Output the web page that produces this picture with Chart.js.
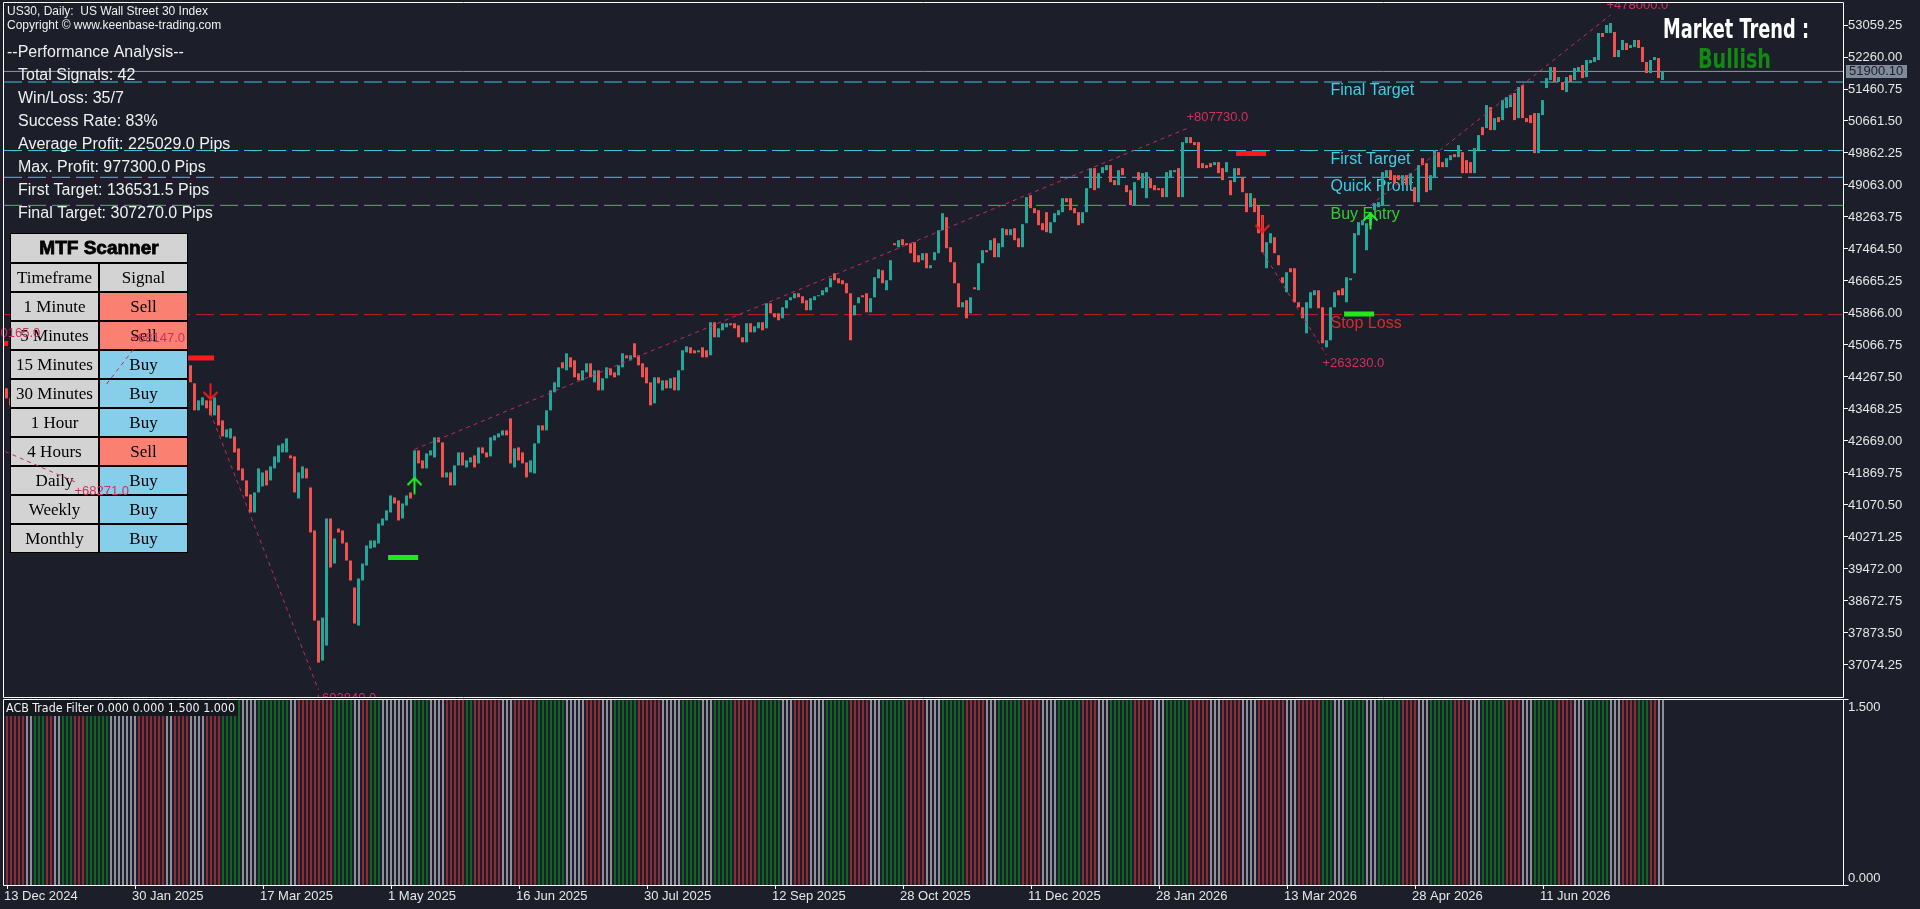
<!DOCTYPE html>
<html>
<head>
<meta charset="utf-8">
<title>US30 Daily - Keenbase</title>
<script src="https://cdn.jsdelivr.net/npm/chart.js@4.4.1/dist/chart.umd.min.js"></script>
<style>
  html, body { margin:0; padding:0; background:#1c1f2a; width:1920px; height:909px; overflow:hidden; }
  canvas { position:absolute; left:0; display:block; }
  #main { top:0; }
  #sub { top:698px; }
</style>
</head>
<body>
<canvas id="main" width="1920" height="698"></canvas>
<canvas id="sub" width="1920" height="211"></canvas>
<script>
// ---------------- DATA ----------------
const opens = [
43984,43734,43559,43684,43384,43184,43309,42984,42784,42934,
42634,42434,42534,42234,42059,42184,41934,41734,41884,41684,
42134,42434,42884,42684,43309,43684,44034,43884,44234,44434,
44309,44684,44884,45034,44784,44634,44809,44559,44384,44534,
44734,44584,44809,44934,44759,44884,44559,44109,43434,43559,
43684,43684,43309,43559,43184,42759,42734,42784,42484,41984,
41684,41334,40884,41384,41534,41934,41684,41984,42134,42384,
42384,42309,42284,41234,41734,41984,41509,40434,38184,37184,
37559,40734,39609,40484,40434,40134,39684,39009,38059,39184,
39559,39984,40009,40109,40559,40684,40884,41259,41184,40734,
41059,41384,41734,42434,42184,41984,42309,42259,42759,42634,
41759,41884,41559,42059,42384,42009,42134,42309,42109,42509,
42384,42284,42684,42759,42809,42934,43234,42009,42509,42384,
42134,41884,41859,42609,43059,42934,43434,43884,44009,44634,
44434,44759,44684,44359,44184,44384,44609,44134,44434,43934,
44234,44484,44384,44309,44509,44809,44684,45109,44809,44609,
44509,44134,43609,44259,43934,44184,43984,44259,43934,44434,
44884,45009,44934,44884,45009,44934,44809,45634,45259,45434,
45509,45609,45609,45559,45259,45134,45609,45384,45484,45634,
45484,46109,45859,45859,45734,45984,46184,46234,46359,46284,
46184,45934,46184,46284,46309,46384,46509,46859,46734,46684,
46609,46359,45809,46109,46309,46359,45884,46259,46734,46934,
46434,46684,47609,47509,47709,47609,47609,47634,47309,47184,
47359,46984,47184,47359,47934,48259,47509,47134,46609,46009,
46184,45859,46509,46434,47109,47434,47434,47734,47259,47509,
47959,47809,47984,47734,47509,48109,48809,48484,48434,48109,
48384,47859,48134,48309,48384,48734,48734,48484,48384,48109,
48384,48984,49484,48984,49359,49434,49559,49184,49059,49484,
49059,48934,48559,49384,48984,48734,49234,49059,48984,48984,
48759,49259,49384,49484,48759,50109,50259,50134,50134,49609,
49559,49609,49559,49634,49484,49384,49184,49134,49484,49259,
48859,48509,48734,48559,48309,46984,47609,47759,47309,46759,
46384,46984,46984,46134,46009,45359,45984,46309,46434,46009,
45009,45184,46009,46434,46484,46134,46684,46859,47809,48059,
47434,48059,48434,48509,48559,49259,49434,49309,49309,49059,
49309,49059,49009,48634,49734,49609,48934,49259,49884,49634,
49509,49684,49834,49759,49884,49684,49634,49359,49934,50509,
50484,51009,50434,50759,50684,50984,51009,51359,50734,51559,
50734,50809,50859,49859,50809,51484,51684,52009,51634,51634,
51384,51809,51684,51884,52059,51759,52109,52134,52184,52859,
52859,52859,52884,52259,52434,52609,52484,52509,52684,52509,
52134,51859,52184,52234,51684
];
const highs = [
44059,43809,43759,43759,43459,43384,43384,43059,43009,43009,
42709,42609,42609,42309,42259,42259,42009,41959,41959,42209,
42509,42959,42959,43384,43759,44109,44109,44309,44509,44509,
44759,44959,45109,45109,44859,44884,44884,44634,44609,44809,
44809,44884,45009,45009,44959,44959,44634,44184,43759,43834,
43734,43809,43859,43609,43234,43034,43059,42834,42534,42034,
41734,41434,41484,42059,41984,42034,42134,42384,42634,42684,
42809,42384,42359,41984,42134,42559,41584,40484,38234,38309,
40884,40884,40309,40809,40509,40234,39759,39109,39309,39684,
40184,40284,40259,40684,40834,41034,41384,41359,41259,41184,
41434,41484,42484,42484,42259,42434,42509,42834,42834,42684,
41959,41934,42134,42459,42459,42734,42359,42434,42559,42584,
42459,42859,42884,42934,43059,43009,43309,42559,42584,42434,
42184,42259,42684,43134,43134,43509,44009,44209,44584,44734,
44934,44834,44759,44434,44509,44684,44684,44509,44509,44309,
44584,44559,44459,44634,44934,44884,44884,45184,44884,44684,
44584,44209,44334,44434,44259,44259,44309,44334,44509,45009,
45109,45084,45009,45184,45084,45009,45709,45709,45559,45684,
45734,45684,45684,45634,45334,45684,45734,45609,45709,45709,
46184,46184,45934,45934,46084,46259,46334,46434,46684,46359,
46259,46309,46359,46384,46509,46584,47059,46934,46809,46759,
46684,46434,46134,46334,46684,46434,46309,46834,47109,47009,
46759,47309,47984,47934,48059,47809,47684,47709,47384,47534,
47434,47234,47459,48059,48434,48334,47584,47209,46684,46209,
46859,46334,46859,47184,47559,47509,47759,47809,47684,48059,
48034,48134,48059,47809,48184,48834,48884,48559,48509,48184,
48459,48209,48434,48509,48809,48809,48809,48559,48459,48459,
49059,49559,49559,49434,49584,49684,49634,49259,49509,49634,
49134,49009,49209,49459,49434,49459,49309,49184,49109,49059,
49459,49684,49559,49559,50209,50384,50509,50434,50209,49934,
49684,49809,49809,49734,49684,49734,49259,49684,49734,49334,
48934,48934,48809,48634,48384,47709,47934,47834,47434,47434,
46959,47434,47059,46434,46309,46209,46684,46684,46509,46084,
45259,46084,46459,46509,46559,46834,46934,47934,48209,48259,
48184,48384,48684,48709,49459,49509,49509,49384,49384,49384,
49384,49434,49084,49634,49984,49684,49384,50009,49959,49809,
49884,49934,49934,50184,49959,49809,49709,50059,50384,50584,
51134,51084,50809,50834,51259,51334,51384,51434,51584,51684,
50809,51184,50934,50934,51434,51809,52184,52309,51834,51709,
51834,51884,52309,52084,52134,52259,52259,52334,52934,52934,
53134,53309,52959,52509,52834,52684,52634,52834,52834,52584,
52209,52259,52509,52309,52134
];
const lows = [
43684,43484,43484,43309,43109,43109,42909,42709,42709,42559,
42359,42359,42159,41984,41984,41859,41659,41659,41559,41609,
42059,42359,42609,42609,43234,43609,43809,43809,44159,44234,
44234,44609,44809,44709,44559,44559,44484,44309,44309,44459,
44509,44509,44734,44684,44684,44609,44084,43359,43359,43484,
43409,43234,43234,42984,42684,42684,42659,42309,41859,41609,
41184,40634,40809,41309,41434,41484,41584,41934,42059,42309,
42309,42134,41134,41134,41684,41659,40309,38059,36434,36634,
37059,39434,39534,40109,40009,39609,39109,37759,37984,39109,
39484,39884,39934,40034,40484,40584,40809,41034,40609,40659,
40984,41134,41684,42034,41884,41909,42234,42184,42559,41684,
41684,41134,41484,41984,41984,41934,42059,41809,42034,42284,
42184,42209,42609,42684,42734,42734,42034,41934,42109,42034,
41684,41809,41784,42534,42859,42859,43359,43809,43934,44409,
44359,44434,44184,44109,44109,44309,44184,44059,43859,43734,
44159,44234,44184,44234,44434,44659,44609,44684,44484,44184,
44034,43234,43534,44034,43859,43809,43909,43859,43859,44359,
44809,44784,44784,44809,44684,44559,44734,45184,45184,45359,
45434,45484,45409,45184,44934,45059,45309,45309,45409,45359,
45409,45784,45684,45609,45659,45909,46109,46159,46184,46034,
45859,45859,46109,46209,46234,46309,46434,46609,46534,46509,
46284,45134,45734,46034,45609,45809,45384,46184,46659,46534,
46359,46609,47359,47434,47484,47234,47284,46809,46809,47109,
46809,46484,47109,47284,47859,47409,47059,46534,45934,45934,
45634,45784,46359,46359,47034,47309,47359,47184,47184,47434,
47734,47734,47609,47434,47434,48034,48409,48284,47984,47859,
47809,47784,48059,48234,48309,48559,48359,48284,47984,47784,
48309,48909,48859,48759,49284,49234,49059,48934,48984,49234,
48809,48484,48484,49109,48684,48659,48909,48684,48859,48434,
48684,49184,49309,48684,48684,50034,50034,49984,49309,49384,
49309,49434,49234,49234,49109,49184,48734,49059,49234,48809,
48309,48309,48284,47784,47309,46259,47534,47284,46984,46534,
46309,46809,46059,45934,45634,45284,45909,46234,45909,45034,
44809,45109,45934,46059,46234,46059,46609,46784,47734,47984,
47259,47984,48359,48434,48484,49184,49109,49034,49109,48984,
48984,48984,48559,48484,49484,48809,48859,49184,49434,49384,
49309,49609,49684,49684,49284,49059,49284,49284,49859,50234,
50409,50359,50359,50559,50609,50909,50934,50609,50659,50659,
50559,50484,49784,49634,50734,51409,51609,51384,51559,51359,
51309,51559,51609,51809,51559,51684,52034,52059,52109,52634,
52784,52784,52109,52184,52359,52359,52309,52434,52409,52059,
51784,51784,52109,51509,51609
];
const closes = [
43734,43559,43684,43384,43184,43309,42984,42784,42934,42634,
42434,42534,42234,42059,42184,41934,41734,41884,41684,42134,
42434,42884,42684,43309,43684,44034,43884,44234,44434,44309,
44684,44884,45034,44784,44634,44809,44559,44384,44534,44734,
44584,44809,44934,44759,44884,44684,44134,43434,43684,43759,
43484,43309,43759,43059,42784,42959,42984,42384,41934,41684,
41284,40884,41384,41984,41884,41559,42034,42284,42559,42609,
42734,42234,41384,41884,42034,41734,40384,38184,37134,38259,
40734,39509,40234,40384,40109,39684,39184,38109,39234,39609,
40059,40184,40184,40609,40734,40934,41309,41109,40684,41109,
41309,41234,42434,42109,41984,42359,42434,42759,42634,41759,
41884,41559,42059,42384,42059,42184,42259,42009,42509,42359,
42259,42759,42809,42859,42934,42809,42109,42484,42184,42109,
41759,42184,42609,43059,42934,43434,43934,44134,44509,44484,
44859,44509,44259,44184,44434,44609,44259,44434,43934,44234,
44509,44309,44259,44559,44859,44734,44809,44759,44559,44259,
44109,43559,44259,44109,44184,43984,44234,43934,44434,44934,
45034,44859,44859,44934,44759,44759,45634,45259,45484,45609,
45609,45559,45484,45259,45134,45609,45384,45534,45634,45434,
46109,45859,45759,45684,46009,46184,46259,46359,46259,46109,
45934,46234,46284,46309,46434,46509,46734,46684,46609,46584,
46359,45184,46059,46259,46259,45884,46234,46759,46959,46609,
46684,47184,47559,47684,47559,47559,47359,47134,47134,47359,
46984,47059,47384,47934,48359,47484,47134,46609,46009,46134,
45734,46259,46459,47109,47434,47384,47684,47259,47609,47984,
47809,47959,47684,47509,48084,48759,48484,48359,48059,47934,
47884,48134,48359,48434,48734,48634,48434,48359,48059,48384,
48984,49484,48934,49359,49509,49559,49134,49059,49434,49309,
48884,48559,49134,49184,49359,49384,48984,48934,48934,48759,
49384,49434,49434,48759,50134,50259,50109,50059,49484,49484,
49484,49509,49634,49359,49184,49634,48809,49484,49309,48884,
48384,48859,48384,47859,47384,47634,47859,47359,47059,46609,
46884,46884,46134,46009,45734,46134,46384,46434,45984,45109,
45184,46009,46384,46309,46309,46759,46734,47859,48134,48184,
48109,48309,48609,48634,49384,49434,49184,49109,49184,49309,
49059,49359,48634,49559,49559,48884,49309,49934,49509,49509,
49734,49809,49759,50059,49359,49359,49359,49984,50309,50309,
51059,50434,50734,50634,51184,51259,51309,50684,51509,50734,
50634,50609,49859,50859,51184,51734,52009,51634,51759,51434,
51759,51634,51984,52009,51734,52184,52184,52259,52859,52759,
53059,53109,52259,52434,52684,52434,52559,52684,52484,52134,
51859,52184,52259,51734,51900.10
];

const yTickLabels = ['53059.25','52260.00','51460.75','50661.50','49862.25','49063.00','48263.75',
  '47464.50','46665.25','45866.00','45066.75','44267.50','43468.25','42669.00','41869.75',
  '41070.50','40271.25','39472.00','38672.75','37873.50','37074.25'];
const dateLabels = ['13 Dec 2024','30 Jan 2025','17 Mar 2025','1 May 2025','16 Jun 2025','30 Jul 2025',
  '12 Sep 2025','28 Oct 2025','11 Dec 2025','28 Jan 2026','13 Mar 2026','28 Apr 2026','11 Jun 2026'];
const dateTickBars = [0,32,64,96,128,160,192,224,256,288,320,352,384];

const levelNames  = ['Final Target','First Target','Quick Profit','Buy Entry','Stop Loss'];
const levelPrices = [51635, 49925, 49255, 48555, 45825];
const bidPrice = 51900.10;
const bidLabel = '51900.10';

const tradeStartBar   = [-22, -4, 25, 51, 102, 314, 341];
const tradeStartPrice = [43900, 42565, 44090, 43368, 42460, 47390, 48555];
const tradeEndBar     = [-6, 18, 32, 78, 296, 330, 401];
const tradeEndPrice   = [45100, 41610, 44990, 36450, 50512, 44816, 53309];
const tradeSide       = ['buy','sell','buy','sell','buy','sell','buy'];
const tradeResult     = ['+100165.0','+68271.0','+68147.0','+602840.0','+807730.0','+263230.0','+478000.0'];

const stopMarkStart = [-3, 45.4, 95.4, 307.4, 334.4];
const stopMarkEnd   = [0.4, 51.9, 102.9, 314.9, 341.9];
const stopMarkPrice = [45104, 44742, 39759, 49850, 45841];
const stopMarkSide  = ['sell','sell','buy','sell','buy'];

const signalBar   = [51, 102, 314, 341];
const signalPrice = [43905, 41557, 48076, 48164];
const signalSide  = ['sell','buy','sell','buy'];

// ACB Trade Filter histogram: [last bar of run, state]  g = green, r = red, s = silver
const filterRuns = [[4,'r'],[6,'s'],[9,'g'],[11,'r'],[13,'s'],[16,'g'],[19,'r'],[25,'g'],[32,'s'],[39,'r'],
 [41,'s'],[45,'r'],[49,'s'],[53,'r'],[58,'g'],[62,'s'],[70,'g'],[72,'s'],[81,'r'],[86,'g'],[88,'s'],[90,'r'],
 [93,'g'],[101,'s'],[105,'g'],[109,'s'],[114,'r'],[116,'g'],[123,'r'],[126,'s'],[132,'r'],[139,'g'],[144,'s'],
 [148,'r'],[151,'s'],[157,'g'],[163,'r'],[168,'s'],[173,'g'],[176,'s'],[181,'g'],[187,'r'],[193,'g'],[196,'s'],
 [200,'r'],[204,'s'],[210,'g'],[215,'r'],[218,'s'],[224,'g'],[229,'r'],[233,'s'],[239,'g'],[244,'r'],[247,'s'],
 [253,'g'],[258,'r'],[262,'s'],[268,'g'],[272,'r'],[275,'s'],[281,'g'],[286,'r'],[289,'s'],[295,'g'],[300,'r'],
 [303,'s'],[308,'r'],[312,'s'],[319,'r'],[322,'s'],[328,'r'],[331,'g'],[334,'s'],[339,'g'],[342,'s'],[348,'g'],
 [352,'r'],[355,'s'],[361,'g'],[365,'r'],[368,'s'],[374,'g'],[378,'r'],[381,'s'],[387,'g'],[391,'r'],[394,'s'],
 [400,'g'],[403,'s'],[407,'r'],[410,'g'],[412,'r'],[414,'s']];
const filterLevel = 1.5;
const filterTicks = ['1.500','0.000'];
const filterTickValues = [1.5, 0];

const tfNames   = ['1 Minute','5 Minutes','15 Minutes','30 Minutes','1 Hour','4 Hours','Daily','Weekly','Monthly'];
const tfSignals = ['Sell','Sell','Buy','Buy','Buy','Sell','Buy','Buy','Buy'];

const chartTitle = 'US30, Daily:  US Wall Street 30 Index';
const copyright  = 'Copyright \u00A9 www.keenbase-trading.com';
const perfTitle  = '--Performance Analysis--';
const perfLines  = ['Total Signals: 42','Win/Loss: 35/7','Success Rate: 83%','Average Profit: 225029.0 Pips',
  'Max. Profit: 977300.0 Pips','First Target: 136531.5 Pips','Final Target: 307270.0 Pips'];
const trendLabel = 'Market Trend :';
const trendValue = 'Bullish';
const filterName = 'ACB Trade Filter 0.000 0.000 1.500 1.000';

// ---------------- STYLE ----------------
const SANS = '"Liberation Sans", Arial, sans-serif';
const SERIF = '"Liberation Serif", "Times New Roman", serif';
const NARROW = '"Liberation Sans Narrow", "DejaVu Sans Condensed", "Liberation Sans", Arial, sans-serif';
const BULL = '#26a69a', BEAR = '#ef5350';
const AXIS_TEXT = '#e6e6e6';
const LEVEL_COLORS = ['#3cc8dc','#3cc8dc','#3cc8dc','#32cd32','#c81e1e'];
const LEVEL_TEXT   = ['#40cfe2','#40cfe2','#40cfe2','#32cd32','#d82a2a'];
const TRADE_LINE = '#c42a5c', TRADE_TEXT = '#d0305c';
const FILTER_COLORS = { g:'#0f6524', r:'#8c2c36', s:'#8f8f99' };
const X_MIN = -0.625, X_MAX = 459.125;   // 4 px per bar
const Y_MIN = 36274.75, Y_MAX = 53633.75;
const LEVEL_LABEL_BAR = 331;

Chart.defaults.font.family = SANS;

function makeArrow(color, up) {
  const c = document.createElement('canvas');
  c.width = 17; c.height = 18;
  const g = c.getContext('2d');
  g.strokeStyle = color; g.lineWidth = 2;
  g.beginPath();
  if (up) { g.moveTo(8.5, 1.5); g.lineTo(8.5, 17.5); g.moveTo(1.5, 8.5); g.lineTo(8.5, 1.5); g.lineTo(15.5, 8.5); }
  else    { g.moveTo(8.5, 0.5); g.lineTo(8.5, 16.5); g.moveTo(1.5, 9.5); g.lineTo(8.5, 16.5); g.lineTo(15.5, 9.5); }
  g.stroke();
  return c;
}
const upArrow = makeArrow('#22ee22', true);
const downArrow = makeArrow('#ee1c1c', false);

const idx = opens.map((_, i) => i);
const candleColor = i => (closes[i] >= opens[i] ? BULL : BEAR);

// ---------------- MAIN CHART DATASETS ----------------
const mainDatasets = [];
mainDatasets.push({ type:'line', label:'bid', data:[{x:X_MIN, y:bidPrice},{x:X_MAX, y:bidPrice}],
  borderColor:'#8f97a4', borderWidth:1, pointRadius:0, order:21 });
levelPrices.forEach((p, k) => mainDatasets.push({ type:'line', label:levelNames[k],
  data:[{x:X_MIN, y:p},{x:X_MAX, y:p}], borderColor:LEVEL_COLORS[k], borderWidth:1,
  borderDash:[18,6], pointRadius:0, order:20 }));
mainDatasets.push({ type:'bar', label:'wicks', stack:'candles',
  data: idx.map(i => ({x:i, y:[lows[i], highs[i]]})),
  backgroundColor: idx.map(candleColor), barThickness:1, borderWidth:0, inflateAmount:0, order:11 });
mainDatasets.push({ type:'bar', label:'bodies', stack:'candles',
  data: idx.map(i => ({x:i, y:[opens[i], closes[i]]})),
  backgroundColor: idx.map(candleColor), barThickness:3, minBarLength:1, borderWidth:0, inflateAmount:0, order:10 });
tradeStartBar.forEach((b, k) => mainDatasets.push({ type:'line', label:'trade'+k,
  data:[{x:b, y:tradeStartPrice[k]},{x:tradeEndBar[k], y:tradeEndPrice[k]}],
  borderColor:TRADE_LINE, borderWidth:1, borderDash:[4,4], pointRadius:0, order:5 }));
stopMarkStart.forEach((b, k) => mainDatasets.push({ type:'line', label:'mark'+k,
  data:[{x:b, y:stopMarkPrice[k]},{x:stopMarkEnd[k], y:stopMarkPrice[k]}],
  borderColor: stopMarkSide[k] === 'buy' ? '#1eea1e' : '#ff1a1a', borderWidth:5, borderCapStyle:'butt',
  pointRadius:0, order:4 }));
mainDatasets.push({ type:'scatter', label:'signals',
  data: signalBar.map((b, k) => ({x:b, y:signalPrice[k]})),
  pointStyle: signalSide.map(s => s === 'buy' ? upArrow : downArrow), pointRadius:8, order:3 });

function drawTable(ctx) {
  const L = 10, R = 188, M = 99, T = 233, titleH = 30, rowH = 29;
  const B = T + titleH + rowH * (tfNames.length + 1);
  ctx.save();
  ctx.fillStyle = '#000000';
  ctx.fillRect(L, T, R - L, B - T);
  const cell = (x0, y0, x1, y1, col) => { ctx.fillStyle = col; ctx.fillRect(x0 + 1, y0 + 1, x1 - x0 - 2, y1 - y0 - 2); };
  const text = (s, cx, cy, font, maxW) => { ctx.font = font; ctx.fillStyle = '#000000'; ctx.fillText(s, cx, cy, maxW); };
  ctx.textAlign = 'center'; ctx.textBaseline = 'middle';
  cell(L, T, R, T + titleH, '#d3d3d3');
  text('MTF Scanner', (L + R) / 2, T + titleH / 2 + 1, 'bold 19px ' + SANS, 124);
  ctx.strokeStyle = '#000000'; ctx.lineWidth = 0.8;
  ctx.strokeText('MTF Scanner', (L + R) / 2, T + titleH / 2 + 1, 124);
  let y = T + titleH;
  cell(L, y, M, y + rowH, '#d3d3d3'); cell(M, y, R, y + rowH, '#d3d3d3');
  text('Timeframe', (L + M) / 2, y + rowH / 2 + 1, '17px ' + SERIF, 84);
  text('Signal', (M + R) / 2, y + rowH / 2 + 1, '17px ' + SERIF, 84);
  tfNames.forEach((n, k) => {
    y += rowH;
    cell(L, y, M, y + rowH, '#d3d3d3');
    cell(M, y, R, y + rowH, tfSignals[k] === 'Buy' ? '#87ceeb' : '#fa8072');
    text(n, (L + M) / 2, y + rowH / 2 + 1, '17px ' + SERIF, 86);
    text(tfSignals[k], (M + R) / 2, y + rowH / 2 + 1, '17px ' + SERIF, 84);
  });
  ctx.restore();
}

const mainDecor = {
  id: 'mainDecor',
  beforeDatasetsDraw(chart) {
    const { ctx, scales: { x, y } } = chart;
    ctx.save();
    ctx.font = '16px ' + SANS; ctx.textBaseline = 'middle'; ctx.textAlign = 'left';
    levelNames.forEach((n, k) => {
      ctx.fillStyle = LEVEL_TEXT[k];
      ctx.fillText(n, x.getPixelForValue(LEVEL_LABEL_BAR), y.getPixelForValue(levelPrices[k]) + 9);
    });
    ctx.restore();
  },
  afterDatasetDraw(chart, args) {
    if (chart.data.datasets[args.index].label === 'bodies') drawTable(chart.ctx);
  },
  afterDatasetsDraw(chart) {
    const { ctx, chartArea: a, scales: { x, y } } = chart;
    ctx.save();
    ctx.beginPath(); ctx.rect(0, a.top, a.right, a.bottom - a.top); ctx.clip();
    ctx.font = '13px ' + SANS; ctx.fillStyle = TRADE_TEXT; ctx.textBaseline = 'middle'; ctx.textAlign = 'left';
    tradeResult.forEach((t, k) => {
      const px = x.getPixelForValue(tradeEndBar[k]) - 4;
      const py = y.getPixelForValue(tradeEndPrice[k]) + (tradeSide[k] === 'buy' ? -10 : 8);
      ctx.fillText(t, px, py);
    });
    ctx.restore();
  },
  afterDraw(chart) {
    const { ctx, chartArea: a, scales: { y } } = chart;
    ctx.save();
    // frame
    ctx.strokeStyle = '#ffffff'; ctx.lineWidth = 1;
    ctx.beginPath();
    ctx.moveTo(3.5, a.top + 0.5); ctx.lineTo(a.right + 0.5, a.top + 0.5);
    ctx.lineTo(a.right + 0.5, a.bottom + 0.5); ctx.lineTo(3.5, a.bottom + 0.5); ctx.closePath();
    ctx.stroke();
    // header texts
    ctx.fillStyle = '#f0f0f0'; ctx.textAlign = 'left'; ctx.textBaseline = 'middle';
    ctx.font = '12px ' + SANS;
    ctx.fillText(chartTitle, 7, 12);
    ctx.fillText(copyright, 7, 26);
    ctx.font = '16px ' + SANS;
    ctx.fillText(perfTitle, 7, 53);
    perfLines.forEach((s, k) => ctx.fillText(s, 18, 76 + k * 23));
    // market trend
    ctx.font = 'bold 27px ' + NARROW;
    ctx.fillStyle = '#ffffff';
    ctx.fillText(trendLabel, 1663, 31, 146);
    ctx.fillStyle = '#128a12';
    ctx.fillText(trendValue, 1698, 61, 73);
    // bid price label on axis
    const by = Math.round(y.getPixelForValue(bidPrice));
    ctx.fillStyle = '#7f8a9a';
    ctx.fillRect(1846, by - 6, 61, 13);
    ctx.fillStyle = '#1c1f2a';
    ctx.font = '13px ' + SANS;
    ctx.fillText(bidLabel, 1849, by + 0.5);
    ctx.restore();
  }
};

new Chart(document.getElementById('main'), {
  type: 'bar',
  data: { datasets: mainDatasets },
  options: {
    responsive: false, animation: false, devicePixelRatio: 1, events: [],
    layout: { autoPadding: false, padding: { left: 4, top: 2, right: 0, bottom: 1 } },
    plugins: { legend: { display: false }, tooltip: { enabled: false } },
    scales: {
      x: { type: 'linear', min: X_MIN, max: X_MAX, offset: false, bounds: 'data', display: false,
           grid: { offset: false } },
      y: { type: 'linear', position: 'right', min: Y_MIN, max: Y_MAX, bounds: 'data',
           afterBuildTicks: s => { s.ticks = yTickLabels.map(t => ({ value: parseFloat(t) })).reverse(); },
           afterFit: s => { s.width = 77; s.paddingTop = 0; s.paddingBottom = 0; },
           ticks: { autoSkip: false, padding: 0, color: AXIS_TEXT, font: { size: 13, family: SANS },
                    callback: v => yTickLabels.find(t => Math.abs(parseFloat(t) - v) < 0.01) },
           grid: { drawOnChartArea: false, drawTicks: true, tickLength: 5, tickColor: '#ffffff', tickWidth: 1 },
           border: { display: false } }
    }
  },
  plugins: [mainDecor]
});

// ---------------- INDICATOR CHART ----------------
const filterState = idx.map(i => { const run = filterRuns.find(r => i <= r[0]); return run ? run[1] : 's'; });
const SUB_X_MIN = -0.75, SUB_X_MAX = 459.0;
const SUB_H = 186;

const subDecor = {
  id: 'subDecor',
  afterDraw(chart) {
    const { ctx, chartArea: a } = chart;
    ctx.save();
    ctx.strokeStyle = '#ffffff'; ctx.lineWidth = 1;
    ctx.beginPath();
    ctx.moveTo(3.5, a.top + 0.5); ctx.lineTo(a.right + 0.5, a.top + 0.5);
    ctx.lineTo(a.right + 0.5, a.bottom + 0.5); ctx.lineTo(3.5, a.bottom + 0.5); ctx.closePath();
    ctx.moveTo(a.right + 0.5, a.top + 0.5); ctx.lineTo(a.right + 5.5, a.top + 0.5);
    ctx.moveTo(a.right + 0.5, a.bottom + 0.5); ctx.lineTo(a.right + 5.5, a.bottom + 0.5);
    ctx.stroke();
    ctx.fillStyle = '#15181f';
    ctx.fillRect(4, a.top + 1, 234, 16);
    ctx.fillStyle = '#f0f0f0'; ctx.font = '13px ' + NARROW;
    ctx.textAlign = 'left'; ctx.textBaseline = 'middle';
    ctx.fillText(filterName, 6, a.top + 9.5, 229);
    ctx.restore();
  }
};

new Chart(document.getElementById('sub'), {
  type: 'bar',
  data: { datasets: [{
    label: 'ACB Trade Filter',
    data: idx.map(i => ({ x: i, y: filterLevel })),
    backgroundColor: filterState.map(s => FILTER_COLORS[s]),
    barThickness: 2, borderWidth: 0, inflateAmount: 0
  }] },
  options: {
    responsive: false, animation: false, devicePixelRatio: 1, events: [],
    layout: { autoPadding: false, padding: { left: 4, top: 1, right: 0, bottom: 0 } },
    plugins: { legend: { display: false }, tooltip: { enabled: false } },
    scales: {
      x: { type: 'linear', min: SUB_X_MIN, max: SUB_X_MAX, offset: false, bounds: 'data', position: 'bottom',
           afterBuildTicks: s => { s.ticks = dateTickBars.map(v => ({ value: v })); },
           afterFit: s => { s.height = 24; s.paddingLeft = 0; s.paddingRight = 0; },
           ticks: { autoSkip: false, maxRotation: 0, minRotation: 0, align: 'start', padding: 0, labelOffset: -3,
                    color: AXIS_TEXT, font: { size: 13, family: SANS },
                    callback: v => dateLabels[dateTickBars.indexOf(v)] },
           grid: { drawOnChartArea: false, drawTicks: true, tickLength: 4, tickColor: '#ffffff', offset: false },
           border: { display: false } },
      y: { type: 'linear', position: 'right', min: 0, max: filterLevel, bounds: 'data',
           afterBuildTicks: s => {
             const inset = [8, 7];
             s.ticks = filterTickValues.map((v, k) => ({
               value: k === 0 ? v - inset[0] * filterLevel / SUB_H : v + inset[1] * filterLevel / SUB_H }));
           },
           afterFit: s => { s.width = 77; s.paddingTop = 0; s.paddingBottom = 0; },
           ticks: { autoSkip: false, padding: 0, color: AXIS_TEXT, font: { size: 13, family: SANS },
                    callback: (v, i) => filterTicks[i] },
           grid: { drawOnChartArea: false, drawTicks: true, tickLength: 5, tickColor: 'rgba(0,0,0,0)' },
           border: { display: false } }
    }
  },
  plugins: [subDecor]
});
</script>
</body>
</html>
